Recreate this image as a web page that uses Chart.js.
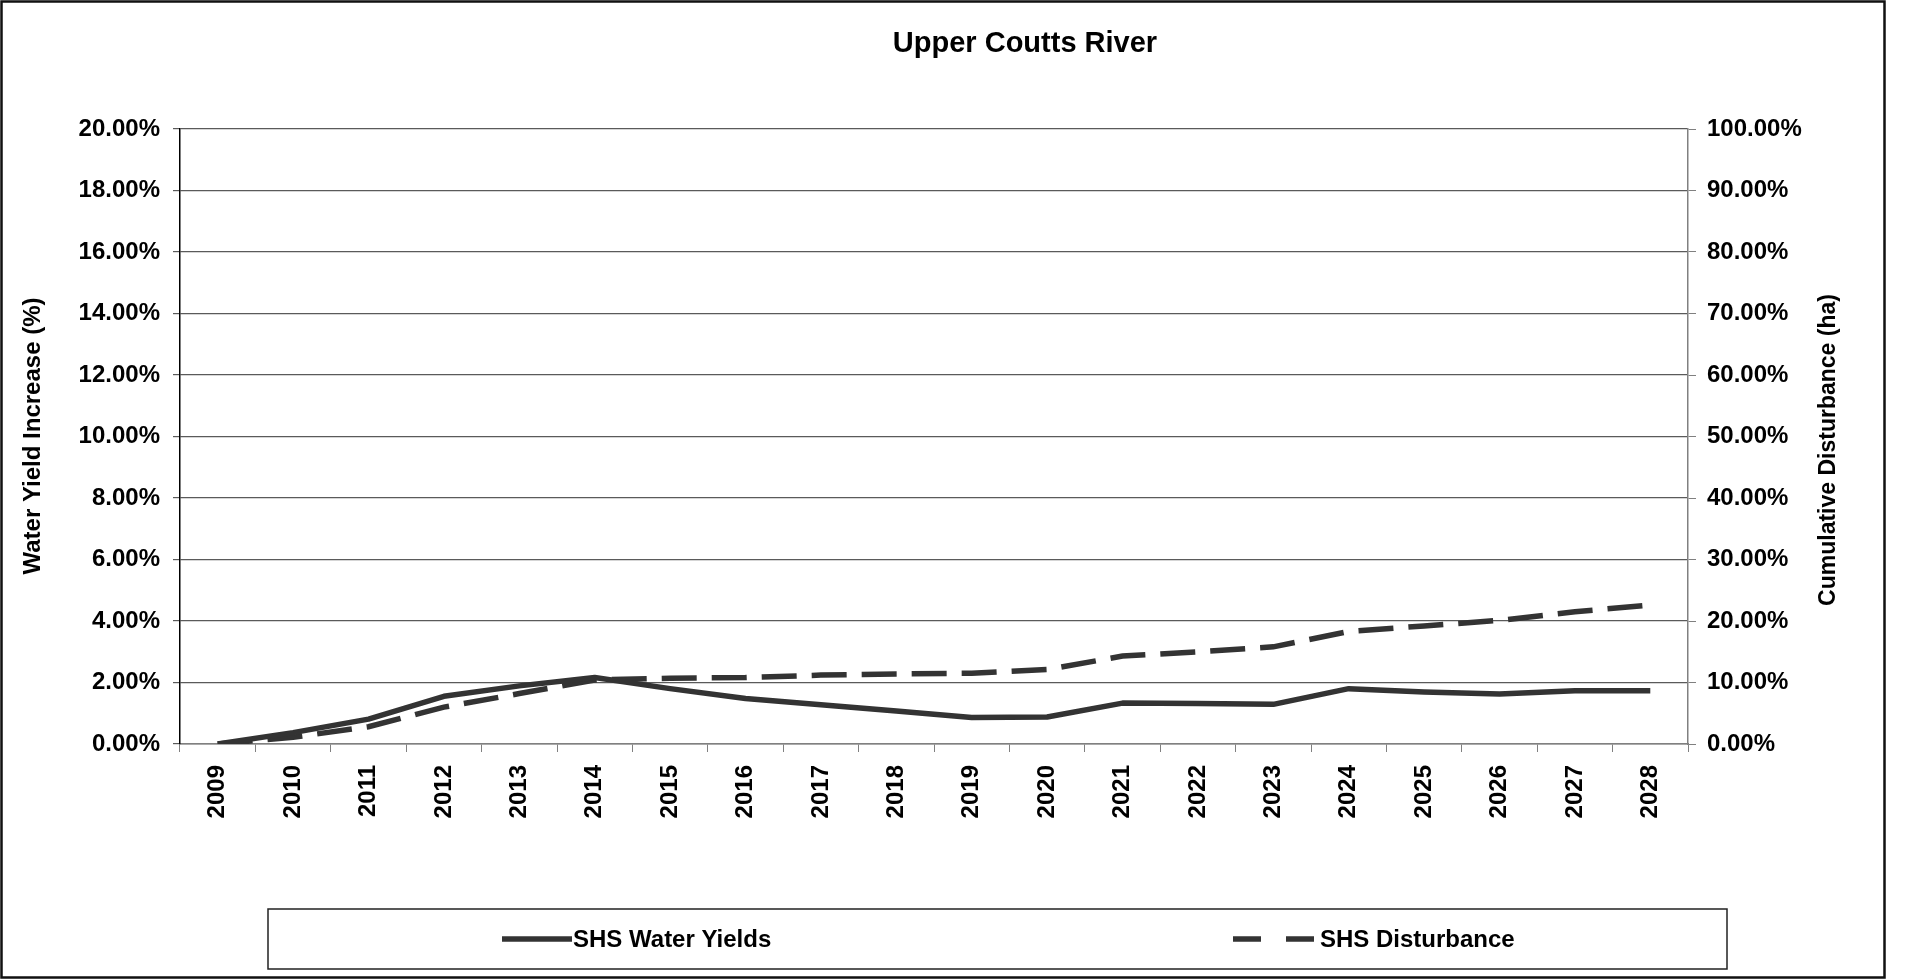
<!DOCTYPE html>
<html>
<head>
<meta charset="utf-8">
<title>Upper Coutts River</title>
<script src="https://cdn.jsdelivr.net/npm/chart.js@4/dist/chart.umd.min.js"></script>
<style>
  html, body { margin: 0; padding: 0; background: #ffffff; }
  #chartWrap { width: 1907px; height: 979px; }
</style>
</head>
<body>
<div id="chartWrap"><canvas id="riverChart" width="1907" height="979"></canvas></div>
<script>
const CHART_TITLE = "Upper Coutts River";
const LEFT_AXIS_TITLE = "Water Yield Increase (%)";
const RIGHT_AXIS_TITLE = "Cumulative Disturbance (ha)";

const years = ["2009", "2010", "2011", "2012", "2013", "2014", "2015", "2016", "2017", "2018",
  "2019", "2020", "2021", "2022", "2023", "2024", "2025", "2026", "2027", "2028"];

// percent values
const waterYields = [0, 0.37, 0.81, 1.55, 1.89, 2.16, 1.80, 1.48, 1.28, 1.07,
  0.86, 0.88, 1.33, 1.32, 1.29, 1.80, 1.69, 1.63, 1.73, 1.73];
const disturbance = [0, 1.1, 2.8, 6.0, 8.2, 10.4, 10.7, 10.8, 11.2, 11.4,
  11.5, 12.1, 14.3, 15.0, 15.8, 18.3, 19.2, 20.1, 21.5, 22.6];

const leftTickMax = 20;
const leftTickStep = 2;
const rightTickMax = 100;
const rightTickStep = 10;

const FONT = "'Liberation Sans', Arial, sans-serif";
const LINE_COLOR = "#333333";
const DASH = [35, 15];

document.addEventListener("DOMContentLoaded", () => {
  initChart();
});

const frameAndLabels = {
  id: "frameAndLabels",
  beforeDraw(chart) {
    const ctx = chart.ctx;
    ctx.save();
    ctx.fillStyle = "#ffffff";
    ctx.fillRect(0, 0, chart.width, chart.height);
    ctx.restore();
  },
  afterDraw(chart) {
    const ctx = chart.ctx;
    ctx.save();

    // outer frame
    ctx.strokeStyle = "#111111";
    ctx.lineWidth = 2.5;
    ctx.strokeRect(1.5, 1.5, 1883, 976);

    ctx.fillStyle = "#000000";
    ctx.textAlign = "center";
    ctx.textBaseline = "middle";

    ctx.font = `bold 29px ${FONT}`;
    ctx.fillText(CHART_TITLE, 1025, 44);

    ctx.font = `bold 24px ${FONT}`;
    drawRotated(ctx, LEFT_AXIS_TITLE, 33, 436);
    ctx.font = `bold 23px ${FONT}`;
    drawRotated(ctx, RIGHT_AXIS_TITLE, 1829, 450);

    drawLegend(chart);
    ctx.restore();
  }
};

function drawRotated(ctx, text, x, y) {
  ctx.save();
  ctx.translate(x, y);
  ctx.rotate(-Math.PI / 2);
  ctx.fillText(text, 0, 0);
  ctx.restore();
}

function drawLegend(chart) {
  const ctx = chart.ctx;
  const box = { left: 268, top: 909, right: 1727, bottom: 969 };
  const items = [
    { dataset: chart.data.datasets[0], x1: 502, x2: 572 },
    { dataset: chart.data.datasets[1], x1: 1233, x2: 1319 }
  ];
  const midY = (box.top + box.bottom) / 2;

  ctx.save();
  ctx.strokeStyle = "#222222";
  ctx.lineWidth = 1.5;
  ctx.strokeRect(box.left, box.top, box.right - box.left, box.bottom - box.top);

  items.forEach((item) => {
    ctx.strokeStyle = item.dataset.borderColor;
    ctx.lineWidth = item.dataset.borderWidth;
    ctx.lineCap = "butt";
    ctx.setLineDash(item.dataset.borderDash ? [28, 25] : []);
    ctx.beginPath();
    ctx.moveTo(item.x1, midY);
    ctx.lineTo(item.x2, midY);
    ctx.stroke();
    ctx.setLineDash([]);

    ctx.fillStyle = "#000000";
    ctx.font = `bold 24px ${FONT}`;
    ctx.textAlign = "left";
    ctx.textBaseline = "middle";
    ctx.fillText(item.dataset.label, item.x2 + 1, midY + 1);
  });
  ctx.restore();
}

function initChart() {
  const canvas = document.getElementById("riverChart");
  if (!canvas) return;

  new Chart(canvas, {
    type: "line",
    data: {
      labels: years,
      datasets: [
        {
          label: "SHS Water Yields",
          data: waterYields,
          yAxisID: "y",
          borderColor: LINE_COLOR,
          borderWidth: 5.5,
          borderCapStyle: "butt",
          borderJoinStyle: "round",
          pointRadius: 0,
          tension: 0,
          fill: false
        },
        {
          label: "SHS Disturbance",
          data: disturbance,
          yAxisID: "y2",
          borderColor: LINE_COLOR,
          borderWidth: 5.5,
          borderDash: DASH,
          borderCapStyle: "butt",
          pointRadius: 0,
          tension: 0,
          fill: false
        }
      ]
    },
    options: {
      responsive: false,
      animation: false,
      devicePixelRatio: 1,
      layout: {
        padding: { top: 129, left: 0, right: 0, bottom: 0 }
      },
      plugins: {
        legend: { display: false },
        title: { display: false },
        tooltip: { enabled: false }
      },
      scales: {
        x: {
          offset: true,
          grid: {
            offset: true,
            drawOnChartArea: false,
            color: "#808080",
            tickLength: 8
          },
          border: { color: "#808080", width: 1.5 },
          ticks: {
            autoSkip: false,
            minRotation: 90,
            maxRotation: 90,
            padding: 13,
            color: "#000000",
            font: { family: FONT, size: 24, weight: "bold" }
          },
          afterFit(scale) {
            scale.height = 235;
          }
        },
        y: {
          position: "left",
          min: 0,
          max: leftTickMax,
          grid: {
            color: "#5a5a5a",
            lineWidth: 1.2,
            tickLength: 7
          },
          border: { color: "#000000", width: 1.5 },
          ticks: {
            stepSize: leftTickStep,
            padding: 13,
            color: "#000000",
            font: { family: FONT, size: 24, weight: "bold" },
            callback: (value) => `${Number(value).toFixed(2)}%`
          },
          afterFit(scale) {
            scale.width = 180;
          }
        },
        y2: {
          position: "right",
          min: 0,
          max: rightTickMax,
          grid: {
            drawOnChartArea: false,
            color: "#808080",
            tickLength: 8
          },
          border: { color: "#808080", width: 1.5 },
          ticks: {
            stepSize: rightTickStep,
            padding: 11,
            color: "#000000",
            font: { family: FONT, size: 24, weight: "bold" },
            callback: (value) => `${Number(value).toFixed(2)}%`
          },
          afterFit(scale) {
            scale.width = 219;
          }
        }
      }
    },
    plugins: [frameAndLabels]
  });
}
</script>
</body>
</html>
